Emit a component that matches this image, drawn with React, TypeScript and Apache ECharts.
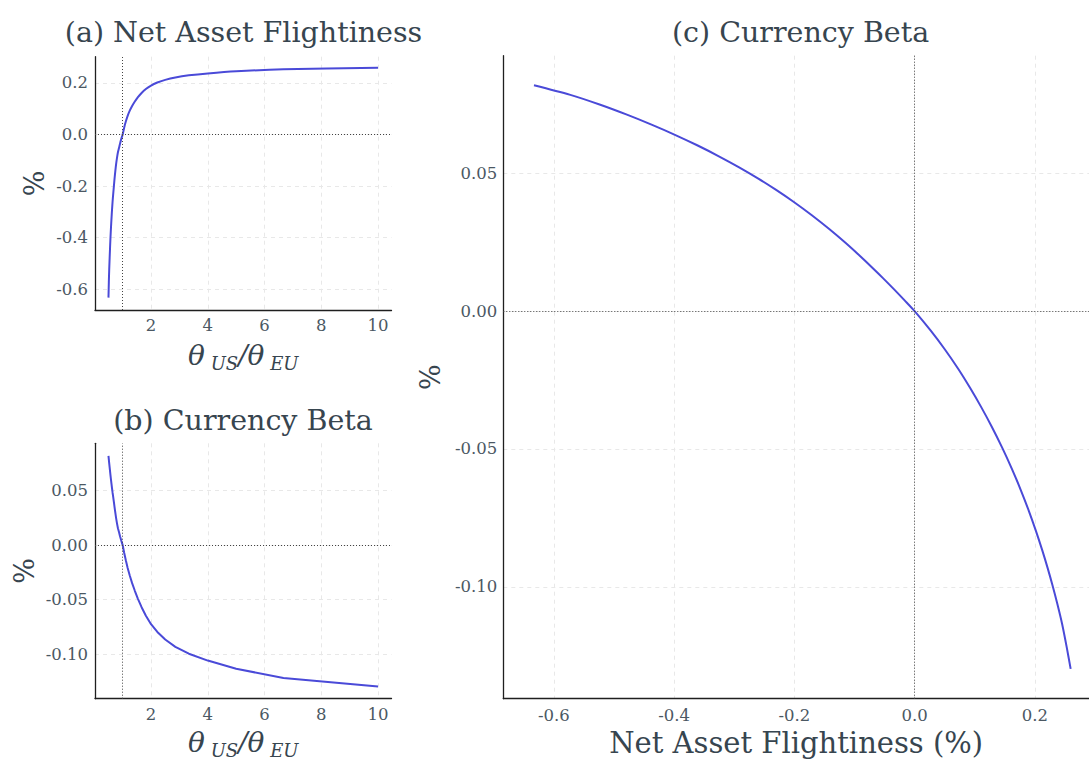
import React, { useEffect, useRef } from "react";
import * as echarts from "echarts";

// theta_US / theta_EU ratio (x of panels a and b)
const thetaRatio = [
  0.5, 0.513, 0.526, 0.541, 0.556, 0.571, 0.588, 0.606, 0.625, 0.645, 0.667,
  0.69, 0.714, 0.741, 0.769, 0.8, 0.833, 0.87, 0.909, 0.952, 1.0, 1.053, 1.111,
  1.176, 1.25, 1.333, 1.429, 1.538, 1.667, 1.818, 2.0, 2.222, 2.5, 2.857, 3.333,
  4.0, 5.0, 6.667, 10.0,
];
// Net asset flightiness (%)
const flightiness = [
  -0.633, -0.5725, -0.5239, -0.4795, -0.4375, -0.3986, -0.3616, -0.3263, -0.2918,
  -0.2599, -0.2303, -0.2014, -0.1709, -0.142, -0.115, -0.0908, -0.069, -0.0526,
  -0.0345, -0.017, 0.0, 0.0265, 0.0504, 0.0724, 0.0924, 0.111, 0.1283, 0.1452,
  0.1614, 0.1764, 0.1902, 0.2017, 0.2122, 0.2215, 0.2296, 0.2371, 0.2453, 0.253,
  0.2595,
];
// Currency beta (%)
const currencyBeta = [
  0.082, 0.0785, 0.075, 0.0714, 0.0677, 0.064, 0.0602, 0.0563, 0.0522, 0.0481,
  0.044, 0.0397, 0.0348, 0.0298, 0.0248, 0.02, 0.0155, 0.012, 0.008, 0.004, 0.0,
  -0.007, -0.0139, -0.0209, -0.0279, -0.0349, -0.0419, -0.0493, -0.057, -0.0648,
  -0.0726, -0.0797, -0.0867, -0.0934, -0.0997, -0.106, -0.1135, -0.122, -0.1298,
];

const panelTitles = ["(a) Net Asset Flightiness", "(b) Currency Beta", "(c) Currency Beta"];
const yAxisName = "%";
const xAxisNameC = "Net Asset Flightiness (%)";

const FONT = "'DejaVu Serif', 'Liberation Serif', serif";
const TITLE_COLOR = "#37454f";
const LABEL_COLOR = "#4b5863";
const LINE_COLOR = "#4a4ad8";

function fmt(d: number) {
  return (v: number) => (Math.abs(v) < 1e-9 ? 0 : v).toFixed(d);
}

export default function App() {
  const ref = useRef<HTMLDivElement>(null);

  useEffect(() => {
    document.body.style.margin = "0";
    if (!ref.current) return;
    const chart = echarts.init(ref.current, undefined, { renderer: "svg" });

    const axisLine = { onZero: false, lineStyle: { color: "#1f1f1f", width: 1.3 } };
    const splitLine = {
      show: true,
      showMinLine: false,
      showMaxLine: false,
      lineStyle: { color: "#e8e8e8", type: [4, 4], width: 1 },
    };
    const tickLabel = (d: number, margin: number, fixed = true) => ({
      showMinLabel: false,
      showMaxLabel: false,
      color: LABEL_COLOR,
      fontSize: 16.5,
      fontFamily: FONT,
      margin,
      formatter: fixed ? fmt(d) : (v: number) => String(v),
    });
    const thetaName = "{t|θ}{s| US}{t|/θ}{s| EU}";
    const thetaRich = {
      t: { fontSize: 28, fontStyle: "italic", fontFamily: FONT, color: TITLE_COLOR, lineHeight: 34 },
      s: {
        fontSize: 18,
        fontStyle: "italic",
        fontFamily: FONT,
        color: TITLE_COLOR,
        verticalAlign: "bottom",
        lineHeight: 18,
      },
    };
    const pctName = {
      name: yAxisName,
      nameLocation: "middle",
      nameRotate: 90,
      nameTextStyle: { fontSize: 27, fontFamily: FONT, color: TITLE_COLOR },
    };
    const refLines = (x: number) => ({
      silent: true,
      symbol: "none",
      label: { show: false },
      lineStyle: { color: "#444", type: [1, 2], width: 1 },
      data: [{ xAxis: x }, { yAxis: 0 }],
    });

    const dataA = thetaRatio.map((r, i) => [r, flightiness[i]]);
    const dataB = thetaRatio.map((r, i) => [r, currencyBeta[i]]);
    const dataC = flightiness.map((f, i) => [f, currencyBeta[i]]);

    const option: any = {
      animation: false,
      backgroundColor: "#ffffff",
      grid: [
        { left: 95, top: 56.7, width: 296.5, height: 253.3, containLabel: false, outerBoundsMode: "none" },
        { left: 95, top: 443.3, width: 296.5, height: 255.4, containLabel: false, outerBoundsMode: "none" },
        { left: 503.3, top: 55.7, right: 0, height: 643, containLabel: false, outerBoundsMode: "none" },
      ],
      xAxis: [
        {
          gridIndex: 0, type: "value", min: 0.025, max: 10.475, minInterval: 2, maxInterval: 2,
          axisLine, axisTick: { show: false }, axisLabel: tickLabel(0, 7, false), splitLine,
          name: thetaName, nameLocation: "middle", nameGap: 28, nameTextStyle: { rich: thetaRich },
        },
        {
          gridIndex: 1, type: "value", min: 0.025, max: 10.475, minInterval: 2, maxInterval: 2,
          axisLine, axisTick: { show: false }, axisLabel: tickLabel(0, 7, false), splitLine,
          name: thetaName, nameLocation: "middle", nameGap: 27, nameTextStyle: { rich: thetaRich },
        },
        {
          gridIndex: 2, type: "value", min: -0.684, max: 0.29, minInterval: 0.2, maxInterval: 0.2,
          axisLine, axisTick: { show: false }, axisLabel: tickLabel(1, 8), splitLine,
          name: xAxisNameC, nameLocation: "middle", nameGap: 27,
          nameTextStyle: { fontSize: 29, fontFamily: FONT, color: TITLE_COLOR },
        },
      ],
      yAxis: [
        {
          gridIndex: 0, type: "value", min: -0.681, max: 0.302, minInterval: 0.2, maxInterval: 0.2,
          axisLine: { ...axisLine, show: true }, axisTick: { show: false }, axisLabel: tickLabel(1, 7), splitLine,
          ...pctName, nameGap: 47,
        },
        {
          gridIndex: 1, type: "value", min: -0.141, max: 0.0935, minInterval: 0.05, maxInterval: 0.05,
          axisLine: { ...axisLine, show: true }, axisTick: { show: false }, axisLabel: tickLabel(2, 7), splitLine,
          ...pctName, nameGap: 57,
        },
        {
          gridIndex: 2, type: "value", min: -0.1406, max: 0.0927, minInterval: 0.05, maxInterval: 0.05,
          axisLine: { ...axisLine, show: true }, axisTick: { show: false }, axisLabel: tickLabel(2, 6), splitLine,
          ...pctName, nameGap: 56,
        },
      ],
      series: [
        {
          type: "line", xAxisIndex: 0, yAxisIndex: 0, data: dataA, showSymbol: false, symbol: "none",
          smooth: 0.25,
          lineStyle: { color: LINE_COLOR, width: 2 }, markLine: refLines(1), z: 3,
        },
        {
          type: "line", xAxisIndex: 1, yAxisIndex: 1, data: dataB, showSymbol: false, symbol: "none",
          lineStyle: { color: LINE_COLOR, width: 2 }, markLine: refLines(1), z: 3,
        },
        {
          type: "line", xAxisIndex: 2, yAxisIndex: 2, data: dataC, showSymbol: false, symbol: "none",
          smooth: 0.3,
          lineStyle: { color: LINE_COLOR, width: 2 }, markLine: refLines(0), z: 3,
        },
      ],
      graphic: [
        { x: 243.5, y: 32.4, text: panelTitles[0] },
        { x: 243, y: 420.8, text: panelTitles[1] },
        { x: 800.5, y: 32.8, text: panelTitles[2] },
      ].map((t) => ({
        type: "text",
        x: t.x,
        y: t.y,
        silent: true,
        style: {
          text: t.text,
          fontSize: 28.5,
          fontFamily: FONT,
          fill: TITLE_COLOR,
          align: "center",
          verticalAlign: "middle",
          textAlign: "center",
          textVerticalAlign: "middle",
        },
      })),
    };

    chart.setOption(option);
    return () => chart.dispose();
  }, []);

  return <div ref={ref} style={{ width: 1089, height: 764 }} />;
}
